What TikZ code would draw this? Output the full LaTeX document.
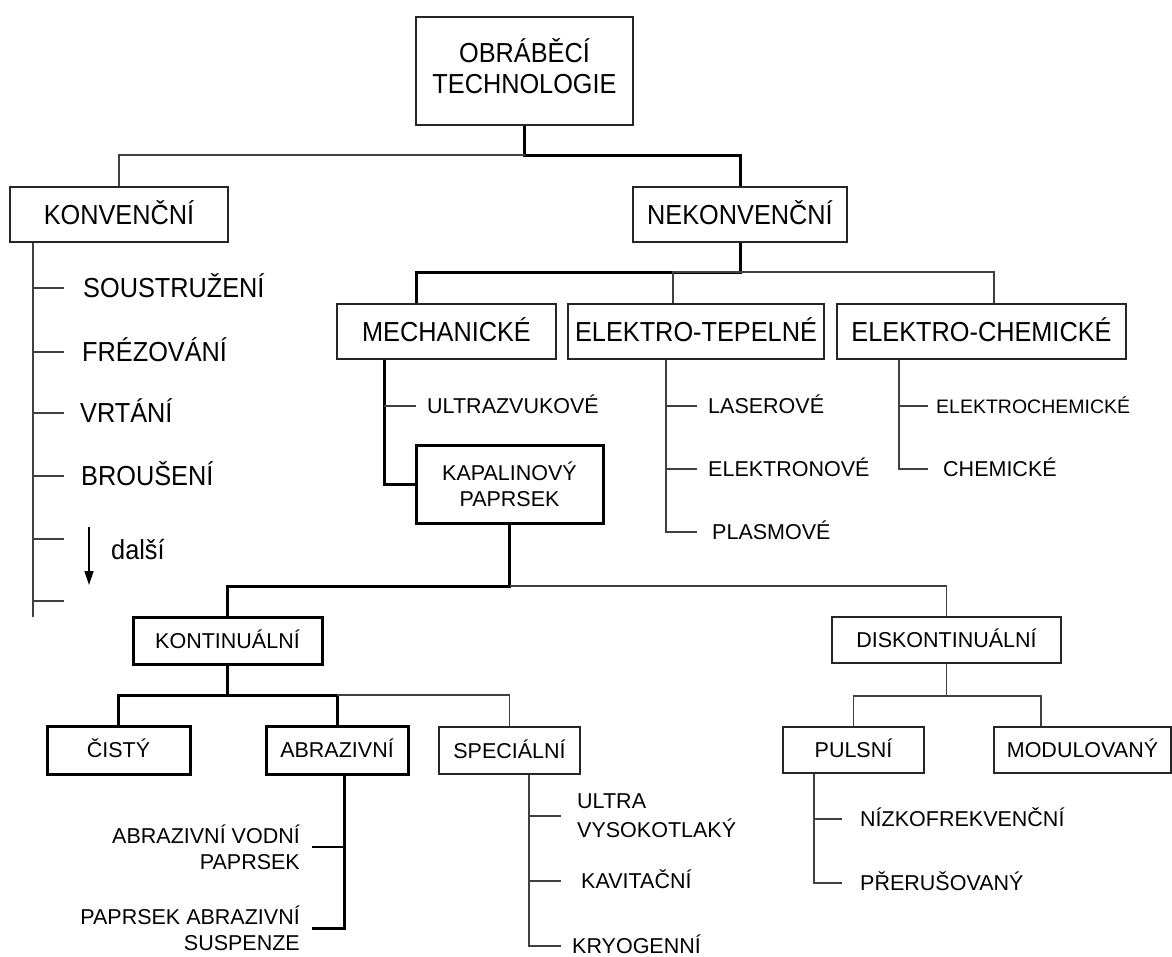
\documentclass[tikz,border=0pt]{standalone}
\usepackage{fontspec}
\setmainfont{Liberation Sans}
\newfontfamily\bigfam{Liberation Sans}[FakeStretch=0.92]
\usetikzlibrary{arrows.meta}
\newcommand\fbig{\bigfam\fontsize{27.5}{31}\selectfont}
\newcommand\fmid{\fontsize{21.5}{26}\selectfont}
\newcommand\fsmall{\fontsize{19.5}{24}\selectfont}
\begin{document}
\begin{tikzpicture}[x=1pt,y=-1pt,
  box/.style={draw=black!85, line width=1.3pt, inner sep=0pt, align=center},
  bigbox/.style={box, font=\fbig, text height=19.7pt, text depth=0pt},
  midbox/.style={box, font=\fmid, text height=15.4pt, text depth=0pt},
  heavy/.style={draw=black, line width=3pt},
  conn/.style={draw=black!75, line width=1.3pt},
  tconn/.style={draw=black, line width=3pt},
  lbl/.style={inner sep=0pt, anchor=west, text depth=0pt},
  biglbl/.style={lbl, font=\fbig, text height=19.7pt},
  midlbl/.style={lbl, font=\fmid, text height=15.4pt}]
\useasboundingbox (0,0) rectangle (1172,956);

% boxes
\node[box, font=\fbig, text height=50.7pt, text depth=6.7pt, minimum width=217pt, minimum height=108pt] (top) at (524.5,71) {OBRÁBĚCÍ\\TECHNOLOGIE};
\node[bigbox, minimum width=218pt, minimum height=55pt] (konv) at (119,214.5) {KONVENČNÍ};
\node[bigbox, minimum width=214pt, minimum height=55pt] (nekonv) at (740,214.5) {NEKONVENČNÍ};
\node[bigbox, minimum width=219pt, minimum height=55pt] (mech) at (446.5,331.5) {MECHANICKÉ};
\node[bigbox, minimum width=256pt, minimum height=55pt] (tep) at (696,331.5) {ELEKTRO-TEPELNÉ};
\node[bigbox, minimum width=289pt, minimum height=55pt] (chem) at (981.5,331.5) {ELEKTRO-CHEMICKÉ};
\node[box, heavy, font=\fmid, minimum width=187pt, minimum height=78pt] (kap) at (509.5,484) {KAPALINOVÝ\\PAPRSEK};
\node[midbox, heavy, minimum width=189pt, minimum height=47pt] (kont) at (227.5,640.5) {KONTINUÁLNÍ};
\node[midbox, heavy, minimum width=143pt, minimum height=48pt] (cisty) at (118.5,750) {ČISTÝ};
\node[midbox, heavy, minimum width=142pt, minimum height=48pt] (abr) at (337,750) {ABRAZIVNÍ};
\node[midbox, minimum width=141pt, minimum height=47pt] (spec) at (509.5,750.5) {SPECIÁLNÍ};
\node[midbox, minimum width=229pt, minimum height=46pt] (disk) at (946.5,640) {DISKONTINUÁLNÍ};
\node[midbox, minimum width=141pt, minimum height=46pt] (puls) at (853.5,750) {PULSNÍ};
\node[midbox, minimum width=177pt, minimum height=46pt] (modul) at (1082.5,750) {MODULOVANÝ};

% labels
\node[biglbl] (soust) at (83,288) {SOUSTRUŽENÍ};
\node[biglbl] (frez) at (82,352) {FRÉZOVÁNÍ};
\node[biglbl] (vrt) at (80,413) {VRTÁNÍ};
\node[biglbl] (brous) at (81,476) {BROUŠENÍ};
\node[biglbl] (dalsi) at (111,550) {další};
\node[midlbl] (ultraz) at (427,406) {ULTRAZVUKOVÉ};
\node[midlbl] (laser) at (708,406) {LASEROVÉ};
\node[midlbl] (elektron) at (708,469) {ELEKTRONOVÉ};
\node[midlbl] (plasm) at (712,532) {PLASMOVÉ};
\node[lbl, font=\fsmall, text height=14pt] (echem) at (936,406) {ELEKTROCHEMICKÉ};
\node[midlbl] (chemk) at (943,469) {CHEMICKÉ};
\node[font=\fmid, align=right, anchor=east, inner sep=0pt] (avp) at (300,847) {ABRAZIVNÍ VODNÍ\\PAPRSEK};
\node[font=\fmid, align=right, anchor=east, inner sep=0pt] (pas) at (300,928) {PAPRSEK ABRAZIVNÍ\\SUSPENZE};
\node[font=\fontsize{21.5}{29}\selectfont, align=left, anchor=west, inner sep=0pt] (uvt) at (577,816) {ULTRA\\VYSOKOTLAKÝ};
\node[midlbl] (kav) at (581,881) {KAVITAČNÍ};
\node[midlbl] (kryo) at (572,946) {KRYOGENNÍ};
\node[midlbl] (nizko) at (860,819) {NÍZKOFREKVENČNÍ};
\node[midlbl] (preru) at (860,883) {PŘERUŠOVANÝ};

% free-end coordinates
\coordinate (lend) at (33,617);
\coordinate (t5) at (33,539);
\coordinate (t6) at (33,601);
\coordinate (a1) at (89,527);
\coordinate (a2) at (89,585);
\coordinate (dj) at (1041,696);

% connectors
\draw[tconn] (top.south) -- (top.south |- 0,155) -| (nekonv.north);
\draw[conn] (top.south |- 0,155) -| (konv.north);

\draw[conn] (konv.south -| 33,0) -- (lend);
\foreach \n in {soust,frez,vrt,brous} \draw[conn] (\n.west -| 33,0) -- ++(31,0);
\draw[conn] (t5) -- ++(31,0);
\draw[conn] (t6) -- ++(31,0);
\draw[black, line width=1.3pt, -{Triangle[length=14pt,width=9pt]}] (a1) -- (a2);

\draw[tconn] (nekonv.south) -- (nekonv.south |- 0,272) -| (mech.north -| 416,0);
\draw[conn] (nekonv.south |- 0,272) -| (tep.north -| 673,0);
\draw[conn] (nekonv.south |- 0,272) -| (chem.north -| 994,0);

\draw[tconn] (mech.south -| 384,0) |- (kap.west);
\draw[conn] (ultraz.west -| 384,0) -- ++(32,0);

\draw[conn] (tep.south -| 666,0) |- (plasm.west -| 697,0);
\draw[conn] (laser.west -| 666,0) -- (laser.west -| 697,0);
\draw[conn] (elektron.west -| 666,0) -- (elektron.west -| 697,0);

\draw[conn] (chem.south -| 899,0) |- (chemk.west -| 928,0);
\draw[conn] (echem.west -| 899,0) -- (echem.west -| 928,0);

\draw[tconn] (kap.south) -- (kap.south |- 0,586) -| (kont.north);
\draw[conn] (kap.south |- 0,586) -| (disk.north);

\draw[tconn] (kont.south) -- (kont.south |- 0,695) -| (cisty.north);
\draw[tconn] (kont.south |- 0,695) -| (abr.north);
\draw[conn] (abr.north |- 0,695) -| (spec.north);

\draw[tconn] (abr.south -| 344,0) |- (pas.east -| 312,0);
\draw[black, line width=2.2pt] (avp.east -| 312,0) -- (avp.east -| 344,0);

\draw[conn] (spec.south -| 529,0) |- (kryo.west -| 561,0);
\draw[conn] (uvt.west -| 529,0) -- (uvt.west -| 561,0);
\draw[conn] (kav.west -| 529,0) -- (kav.west -| 561,0);

\draw[conn] (disk.south) -- (disk.south |- dj);
\draw[conn] (puls.north) |- (dj) -- (dj |- modul.north);

\draw[conn] (puls.south -| 814,0) |- (preru.west -| 842,0);
\draw[conn] (nizko.west -| 814,0) -- (nizko.west -| 842,0);
\end{tikzpicture}
\end{document}
